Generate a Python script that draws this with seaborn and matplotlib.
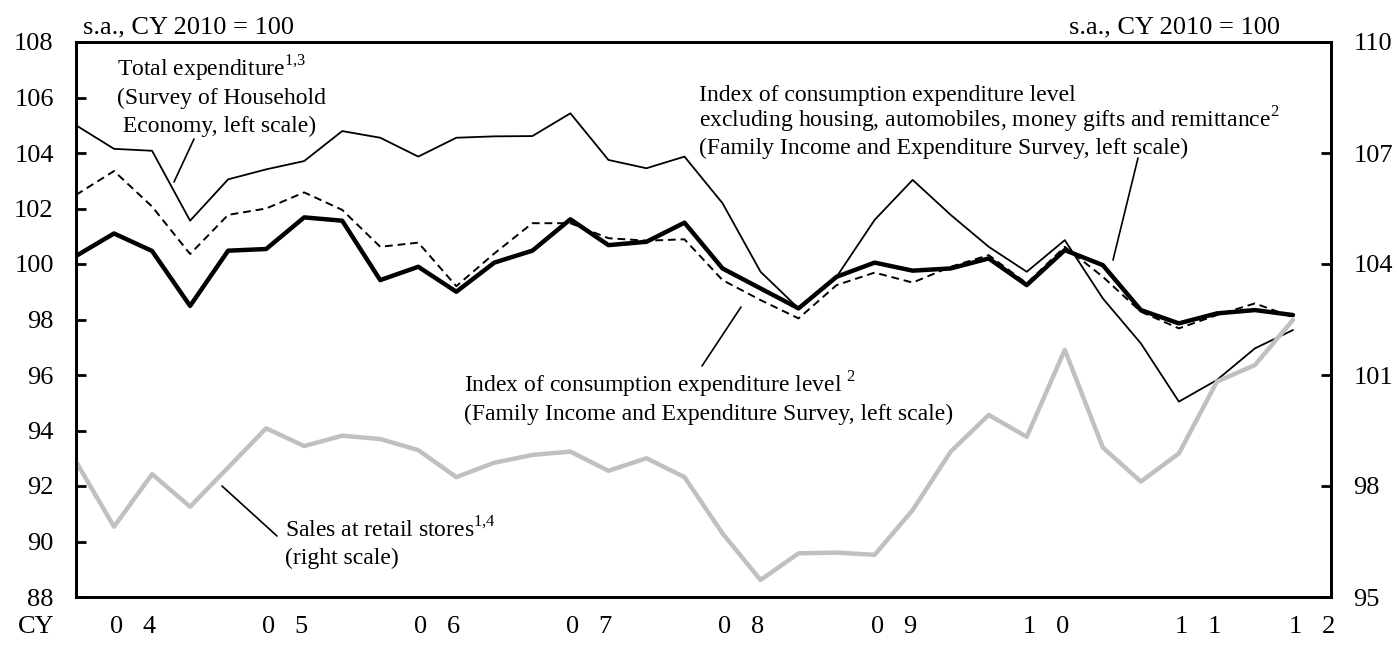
import matplotlib.pyplot as plt
import matplotlib.transforms as mtransforms
from matplotlib.lines import Line2D
import pandas as pd
import seaborn as sns

# quarterly, 2004Q1 .. 2012Q1
quarters = [f"{y}Q{q}" for y in range(2004, 2013) for q in range(1, 5)][:33]
year_labels = ["04", "05", "06", "07", "08", "09", "10", "11", "12"]

# Total expenditure (Survey of Household Economy), left scale
total_expenditure = [105.0, 104.15, 104.08, 101.56, 103.05, 103.41, 103.71, 104.79, 104.55, 103.87,
                     104.55, 104.6, 104.61, 105.43, 103.75, 103.45, 103.87, 102.19, 99.72, 98.4,
                     99.54, 101.59, 103.03, 101.77, 100.62, 99.72, 100.86, 98.76, 97.14, 95.04,
                     95.82, 96.96, 97.62]
# Index of consumption expenditure level, left scale
cons_index = [100.29, 101.1, 100.47, 98.49, 100.48, 100.54, 101.68, 101.56, 99.42, 99.9,
              99.0, 100.05, 100.48, 101.61, 100.68, 100.8, 101.49, 99.84, 99.12, 98.4,
              99.54, 100.05, 99.76, 99.84, 100.2, 99.24, 100.5, 99.96, 98.34, 97.86,
              98.22, 98.34, 98.16]
# same, excluding housing, automobiles, money gifts and remittance, left scale
cons_index_excl = [102.49, 103.35, 102.07, 100.36, 101.77, 102.0, 102.58, 101.95, 100.62, 100.77,
                   99.2, 100.38, 101.47, 101.47, 100.93, 100.84, 100.89, 99.42, 98.7, 98.04,
                   99.24, 99.69, 99.33, 99.9, 100.32, 99.3, 100.62, 99.54, 98.28, 97.68,
                   98.16, 98.58, 98.08]
# Sales at retail stores, right scale
retail_sales = [98.66, 96.9, 98.32, 97.44, 98.5, 99.56, 99.08, 99.36, 99.27, 98.97,
                98.24, 98.63, 98.84, 98.93, 98.41, 98.75, 98.24, 96.72, 95.46, 96.18,
                96.2, 96.14, 97.35, 98.93, 99.92, 99.33, 101.68, 99.04, 98.12, 98.88,
                100.82, 101.27, 102.49]

W, H = 1397, 648

sns.set_style("white")
plt.rcParams["font.family"] = ["Liberation Serif", "DejaVu Serif"]
plt.rcParams["font.size"] = 17
plt.rcParams["mathtext.fontset"] = "custom"
plt.rcParams["mathtext.rm"] = "Liberation Serif"
plt.rcParams["text.color"] = "black"
plt.rcParams["axes.edgecolor"] = "black"
plt.rcParams["xtick.color"] = "black"
plt.rcParams["ytick.color"] = "black"

df = pd.DataFrame({
    "quarter": quarters,
    "total": total_expenditure,
    "cons": cons_index,
    "cons_excl": cons_index_excl,
    "retail": retail_sales,
})
df["pos"] = range(len(df))


def px(x, y):
    # pixel (from top-left) to figure fraction
    return x / W, 1 - y / H


def note(x, y, lines, step=27.3):
    # one fig.text per line, y is the first baseline in pixels
    for i, s in enumerate(lines):
        fig.text(*px(x, y + i * step), s, va="baseline", fontsize=17)


fig = plt.figure(figsize=(W / 100, H / 100), dpi=100)
ax = fig.add_axes([76 / W, 1 - 597 / H, (1331 - 76) / W, (597 - 42) / H])
ax2 = ax.twinx()

sns.lineplot(data=df, x="pos", y="total", ax=ax, color="black", lw=1.3)
sns.lineplot(data=df, x="pos", y="cons_excl", ax=ax, color="black", lw=1.4,
             linestyle=(0, (4, 2.5)))
sns.lineplot(data=df, x="pos", y="cons", ax=ax, color="black", lw=3.2)
sns.lineplot(data=df, x="pos", y="retail", ax=ax2, color="#c0c0c0", lw=3.2)

ax.set_xlim(0, 33)
ax.set_ylim(88, 108)
ax2.set_ylim(95, 110)
ax.set_yticks(range(88, 109, 2))
ax2.set_yticks(range(95, 111, 3))
for a in (ax, ax2):
    a.set_xlabel("")
    a.set_ylabel("")
    for s in a.spines.values():
        s.set_linewidth(2)
ax.tick_params(axis="y", direction="in", length=7, width=2, pad=16, labelsize=19)
ax2.tick_params(axis="y", direction="in", length=7, width=2, pad=16, labelsize=19)

# thick ticks at year boundaries (Q4 and Q1), thin ones for the rest
major = [0] + [p for k in range(1, 9) for p in (4 * k - 1, 4 * k)]
minor = [p for p in range(1, 33) if p not in major]
ax.set_xticks(major)
ax.set_xticks(minor, minor=True)
ax.tick_params(axis="x", which="major", direction="in", length=7, width=3.5,
               labelbottom=False, top=False)
ax.tick_params(axis="x", which="minor", direction="in", length=7, width=1.5,
               top=False)

trans = mtransforms.blended_transform_factory(ax.transData, fig.transFigure)
for k, lab in enumerate(year_labels):
    start = 4 * k
    mid = (start + min(start + 3, 33)) / 2
    ax.text(mid, 1 - 633 / H, "   ".join(lab), transform=trans,
            ha="center", va="baseline", fontsize=19)
fig.text(*px(18, 633), "CY", va="baseline", fontsize=19)

fig.text(*px(83, 33), "s.a., CY 2010 = 100", va="baseline", fontsize=19)
fig.text(*px(1280, 33), "s.a., CY 2010 = 100", va="baseline", ha="right", fontsize=19)

note(117, 77, ["Total expenditure$^{\\mathrm{1{,}3}}$",
               "(Survey of Household",
               " Economy, left scale)"])
note(699, 101, ["Index of consumption expenditure level",
                "excluding housing, automobiles, money gifts and remittance$^{\\mathrm{2}}$",
                "(Family Income and Expenditure Survey, left scale)"], step=26.7)
note(464, 393, ["Index of consumption expenditure level $^{\\mathrm{2}}$",
                "(Family Income and Expenditure Survey, left scale)"], step=27)
note(285, 537, ["Sales at retail stores$^{\\mathrm{1{,}4}}$",
                "(right scale)"], step=27)

leaders = [((194, 139), (174, 182)),
           ((1138, 158), (1113, 260)),
           ((741, 307), (702, 366)),
           ((222, 486), (277, 536))]
for p1, p2 in leaders:
    (x1, y1), (x2, y2) = px(*p1), px(*p2)
    fig.add_artist(Line2D([x1, x2], [y1, y2], color="black", lw=1.2,
                          transform=fig.transFigure))

fig.savefig("out.png", dpi=100)
